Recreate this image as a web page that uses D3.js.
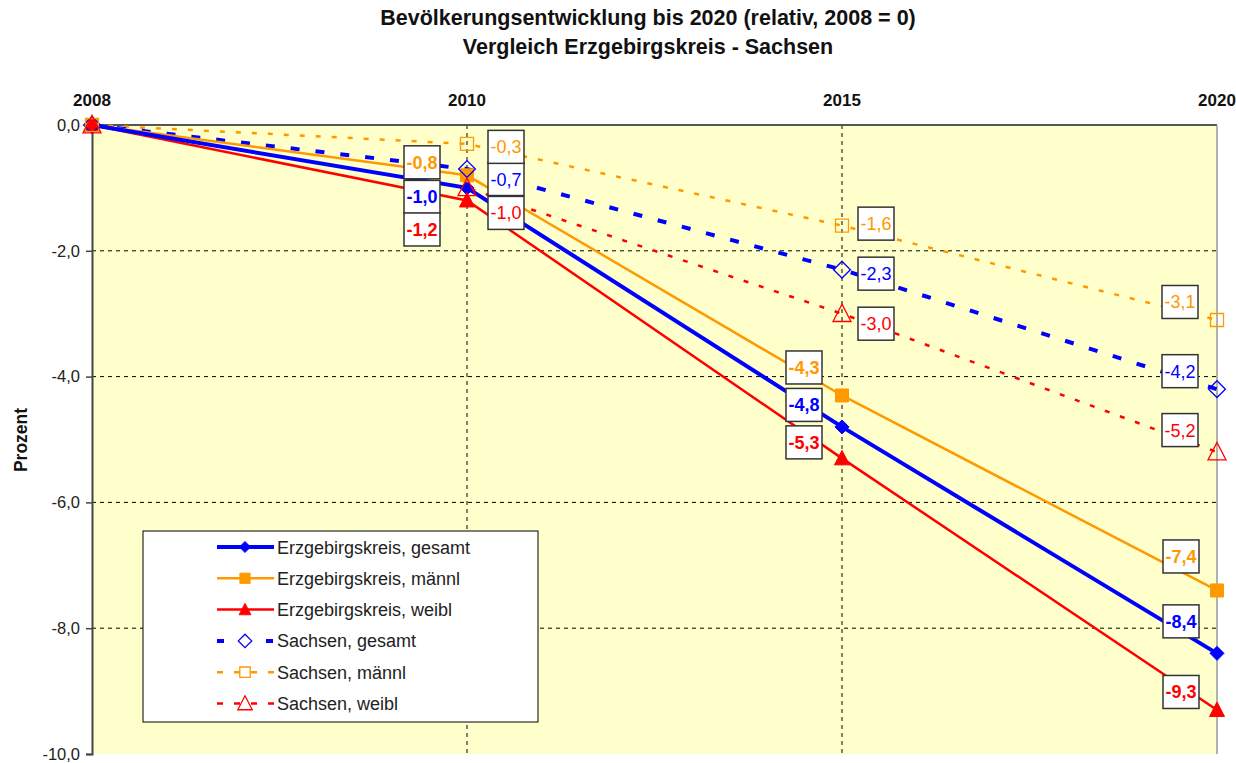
<!DOCTYPE html>
<html>
<head>
<meta charset="utf-8">
<script src="https://cdn.jsdelivr.net/npm/d3@7"></script>
<style>
  body { margin: 0; background: #fff; }
  svg { font-family: "Liberation Sans", Arial, sans-serif; }
</style>
</head>
<body>
<div id="chart"></div>
<script>
// data
const years = ["2008", "2010", "2015", "2020"];
const erzGesamt = [0, -1.0, -4.8, -8.4];
const erzMaennl = [0, -0.8, -4.3, -7.4];
const erzWeibl = [0, -1.2, -5.3, -9.3];
const saGesamt = [0, -0.7, -2.3, -4.2];
const saMaennl = [0, -0.3, -1.6, -3.1];
const saWeibl = [0, -1.0, -3.0, -5.2];
const yTicks = [0, -2, -4, -6, -8, -10];

const width = 1236, height = 763;
const margin = { top: 125, right: 19, bottom: 9, left: 92 };

const blue = "#0000ff", orange = "#ff9900", red = "#ff0000";

// series styling + label offsets (box centre relative to point, per year)
const series = [
	{ name: "Erzgebirgskreis, gesamt", values: erzGesamt, color: blue, width: 4, dash: null, marker: "diamond", filled: true, bold: true,
	  legendDash: null, off: [null, [-45, 9], [-38, -22], [-36, -32]] },
	{ name: "Erzgebirgskreis, männl", values: erzMaennl, color: orange, width: 2.5, dash: null, marker: "square", filled: true, bold: true,
	  legendDash: null, off: [null, [-45, -13], [-38, -28], [-36, -34]] },
	{ name: "Erzgebirgskreis, weibl", values: erzWeibl, color: red, width: 2.5, dash: null, marker: "triangle", filled: true, bold: true,
	  legendDash: null, off: [null, [-45, 29], [-38, -16], [-36, -18]] },
	{ name: "Sachsen, gesamt", values: saGesamt, color: blue, width: 4, dash: "9,16", marker: "diamond", filled: false, bold: false,
	  legendDash: "7,42", off: [null, [39, 10], [34, 4], [-37, -18]] },
	{ name: "Sachsen, männl", values: saMaennl, color: orange, width: 2.5, dash: "5,11", marker: "square", filled: false, bold: false,
	  legendDash: "6,11", off: [null, [39, 3], [34, -2], [-37, -18]] },
	{ name: "Sachsen, weibl", values: saWeibl, color: red, width: 2.5, dash: "5,11", marker: "triangle", filled: false, bold: false,
	  legendDash: "6,11", off: [null, [39, 25], [34, 10], [-37, -22]] },
];

const svg = d3.select("#chart").append("svg")
	.attr("width", width)
	.attr("height", height);

const x = d3.scalePoint()
	.domain(years)
	.range([margin.left, width - margin.right]);

const y = d3.scaleLinear()
	.domain([-10, 0])
	.range([height - margin.bottom, margin.top]);

const fmt = (v) => d3.format(".1f")(v).replace(".", ",").replace("−", "-");

// plot background
svg.append("rect")
	.attr("x", margin.left)
	.attr("y", margin.top)
	.attr("width", x("2020") - margin.left)
	.attr("height", y(-10) - margin.top)
	.attr("fill", "#ffffcc");

// grid lines
svg.append("g")
	.selectAll("line")
	.data(yTicks.filter((d) => d !== 0 && d !== -10))
	.join("line")
	.attr("x1", margin.left)
	.attr("x2", x("2020"))
	.attr("y1", (d) => y(d))
	.attr("y2", (d) => y(d))
	.attr("stroke", "#000")
	.attr("stroke-dasharray", "4,4");

svg.append("g")
	.selectAll("line")
	.data(["2010", "2015"])
	.join("line")
	.attr("x1", (d) => x(d))
	.attr("x2", (d) => x(d))
	.attr("y1", margin.top)
	.attr("y2", y(-10))
	.attr("stroke", "#000")
	.attr("stroke-dasharray", "4,4");

// frame
svg.append("line").attr("x1", margin.left).attr("x2", x("2020")).attr("y1", margin.top).attr("y2", margin.top)
	.attr("stroke", "#555").attr("stroke-width", 2);
svg.append("line").attr("x1", x("2020")).attr("x2", x("2020")).attr("y1", margin.top).attr("y2", y(-10))
	.attr("stroke", "#999").attr("stroke-width", 1.5);

// y axis
const yAxis = svg.append("g")
	.attr("transform", `translate(${margin.left},0)`)
	.call(d3.axisLeft(y).tickValues(yTicks).tickFormat(fmt).tickSize(6).tickPadding(6));
yAxis.select(".domain").attr("stroke", "#444").attr("stroke-width", 2);
yAxis.selectAll(".tick line").attr("stroke", "#444").attr("stroke-width", 1.5);
yAxis.selectAll(".tick text").attr("font-size", 16.5).attr("fill", "#222")
	.attr("font-family", "Liberation Sans, Arial, sans-serif");

// x axis on top (labels only)
svg.append("g")
	.selectAll("text")
	.data(years)
	.join("text")
	.attr("x", (d) => x(d))
	.attr("y", 106)
	.attr("text-anchor", "middle")
	.attr("font-size", 17)
	.attr("font-weight", "bold")
	.attr("fill", "#111")
	.text((d) => d);

// y label
svg.append("text")
	.attr("transform", "translate(27,440) rotate(-90)")
	.attr("text-anchor", "middle")
	.attr("font-size", 17.5)
	.attr("font-weight", "bold")
	.attr("fill", "#111")
	.text("Prozent");

// title
svg.append("text")
	.attr("x", 648)
	.attr("y", 25)
	.attr("text-anchor", "middle")
	.attr("font-size", 21.5)
	.attr("font-weight", "bold")
	.attr("fill", "#111")
	.text("Bevölkerungsentwicklung bis 2020 (relativ, 2008 = 0)");
svg.append("text")
	.attr("x", 648)
	.attr("y", 54)
	.attr("text-anchor", "middle")
	.attr("font-size", 21.5)
	.attr("font-weight", "bold")
	.attr("fill", "#111")
	.text("Vergleich Erzgebirgskreis - Sachsen");

function markerPath(type) {
	if (type === "diamond") return "M0,-7L7,0L0,7L-7,0Z";
	if (type === "square") return "M-6.5,-6.5H6.5V6.5H-6.5Z";
	return "M0,-8L7.5,6.5H-7.5Z";
}

function drawMarker(g, s, cx, cy, scale) {
	const k = s.filled || s.marker === "square" ? scale : scale * 1.2;
	g.append("path")
		.attr("d", markerPath(s.marker))
		.attr("transform", `translate(${cx},${cy}) scale(${k})`)
		.attr("fill", s.filled ? s.color : "none")
		.attr("stroke", s.color)
		.attr("stroke-width", s.filled ? 1 : 1.3 / k);
}

const line = d3.line()
	.x((d, i) => x(years[i]))
	.y((d) => y(d));

// lines (Sachsen first so Erzgebirge sits on top)
const order = [5, 4, 3, 2, 1, 0];
order.forEach((k) => {
	const s = series[k];
	svg.append("path")
		.datum(s.values)
		.attr("d", line)
		.attr("fill", "none")
		.attr("stroke", s.color)
		.attr("stroke-width", s.width)
		.attr("stroke-dasharray", s.dash);
});

// markers
series.forEach((s) => {
	const g = svg.append("g");
	s.values.forEach((v, i) => drawMarker(g, s, x(years[i]), y(v), 1));
});

// data labels
const boxW = 36, boxH = 33;
series.forEach((s) => {
	s.values.forEach((v, i) => {
		const o = s.off[i];
		if (!o) return;
		const cx = x(years[i]) + o[0];
		const cy = y(v) + o[1];
		svg.append("rect")
			.attr("x", cx - boxW / 2)
			.attr("y", cy - boxH / 2)
			.attr("width", boxW)
			.attr("height", boxH)
			.attr("fill", "#fff")
			.attr("stroke", "#333")
			.attr("stroke-width", 1.5);
		svg.append("text")
			.attr("x", cx)
			.attr("y", cy + 6.5)
			.attr("text-anchor", "middle")
			.attr("font-size", 18)
			.attr("font-weight", s.bold ? "bold" : "normal")
			.attr("fill", s.color)
			.text(fmt(v));
	});
});

// legend
const legend = svg.append("g").attr("transform", "translate(143,531)");
legend.append("rect")
	.attr("width", 395)
	.attr("height", 191)
	.attr("fill", "#fff")
	.attr("stroke", "#000")
	.attr("stroke-width", 1);

series.forEach((s, i) => {
	const ly = 16 + i * 31.3;
	legend.append("line")
		.attr("x1", 74)
		.attr("x2", 131)
		.attr("y1", ly)
		.attr("y2", ly)
		.attr("stroke", s.color)
		.attr("stroke-width", s.width)
		.attr("stroke-dasharray", s.legendDash);
	drawMarker(legend, s, 102, ly, 0.8);
	legend.append("text")
		.attr("x", 134)
		.attr("y", ly + 6.5)
		.attr("font-size", 18)
		.attr("fill", "#222")
		.text(s.name);
});
</script>
</body>
</html>
